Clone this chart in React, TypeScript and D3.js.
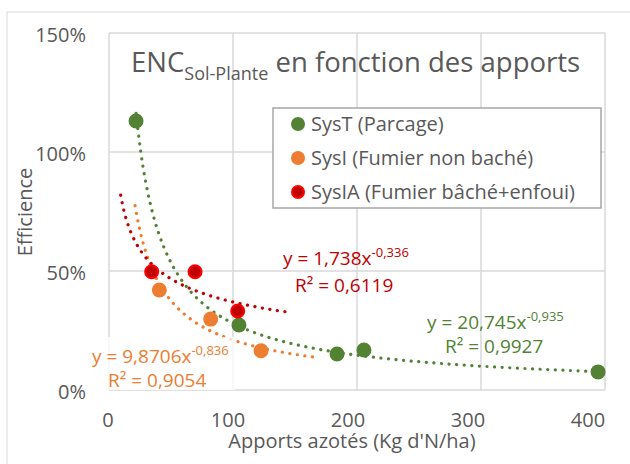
import * as d3 from "d3";

// ---- data ----
const sysT_x = [21.8, 104.8, 183.9, 205.6, 394.4];
const sysT_y = [113, 27.3, 15.1, 16.8, 7.6];
const sysI_x = [40.6, 82, 122.6];
const sysI_y = [42, 29.8, 16.5];
const sysIA_x = [34.4, 69.4, 103.8];
const sysIA_y = [49.7, 49.7, 33.2];

// power trendlines y = a * x^b (values as printed on the chart), drawn on [from, to]
const trendA = [20.745, 9.8706, 1.738];
const trendB = [-0.935, -0.836, -0.336];
const trendFrom = [21.8, 21, 9.4];
const trendTo = [394.4, 169, 144];

const seriesNames = ["SysT (Parcage)", "SysI (Fumier non baché)", "SysIA (Fumier bâché+enfoui)"];
const eqLabels = ["y = 20,745x", "y = 9,8706x", "y = 1,738x"];
const eqExps = ["-0,935", "-0,836", "-0,336"];
const r2Labels = ["R² = 0,9927", "R² = 0,9054", "R² = 0,6119"];
// label anchors in data units
const eqAt = [[256.5, 25.6], [-13.7, 11.3], [140.3, 52.5]];
const r2At = [[271, 15.5], [-0.8, 1.3], [150, 41.2]];

const xTicks = [0, 100, 200, 300, 400];
const yTicks = [0, 50, 100, 150];

const colors = ["#548235", "#ED7D31", "#C00000"];
const FONT = "'Open Sans', sans-serif";
const GREY = "#595959";

export default function App() {
  const x = d3.scaleLinear().domain([0, 400]).range([109, 605]);
  const y = d3.scaleLinear().domain([0, 150]).range([390, 33]);
  // Excel places the category numbers slightly off the grid
  const xLab = d3.scaleLinear().domain([0, 400]).range([108, 588]);

  const series = [
    { xs: sysT_x, ys: sysT_y },
    { xs: sysI_x, ys: sysI_y },
    { xs: sysIA_x, ys: sysIA_y },
  ];

  const line = d3.line<[number, number]>()
    .x(d => x(d[0]))
    .y(d => y(d[1]))
    .curve(d3.curveMonotoneX);

  const trendPath = (i: number) => {
    const pts: [number, number][] = d3.range(0, 101).map(k => {
      const xv = trendFrom[i] + (trendTo[i] - trendFrom[i]) * k / 100;
      return [xv, 100 * trendA[i] * Math.pow(xv, trendB[i])];
    });
    return line(pts) || "";
  };

  return (
    <svg width={630} height={464} style={{ position: "absolute", left: 0, top: 0, background: "#fff" }} fontFamily={FONT}>
      <rect x={7} y={12} width={640} height={470} fill="#fff" stroke="#d9d9d9" strokeWidth={1} />

      {/* grid */}
      {yTicks.map(t => (
        <line key={"gy" + t} x1={x(0)} x2={x(400)} y1={y(t)} y2={y(t)} stroke="#d9d9d9" strokeWidth={1.5} />
      ))}
      {xTicks.map(t => (
        <line key={"gx" + t} x1={x(t)} x2={x(t)} y1={y(0)} y2={y(150)} stroke="#d9d9d9" strokeWidth={1.5} />
      ))}

      {/* axis ticks */}
      {yTicks.map(t => (
        <text key={"ty" + t} x={86} y={y(t) + 2} dy="0.35em" textAnchor="end" fontSize={20} fill={GREY}>{t}%</text>
      ))}
      {xTicks.map(t => (
        <text key={"tx" + t} x={xLab(t)} y={427} textAnchor="middle" fontSize={20} fill={GREY}>{t}</text>
      ))}

      <text x={352} y={448} textAnchor="middle" fontSize={20} fill={GREY}>Apports azotés (Kg d'N/ha)</text>
      <text transform="translate(32,212) rotate(-90)" textAnchor="middle" fontSize={20} fill={GREY}>Efficience</text>

      {/* title */}
      <text x={131} y={72} fontSize={27.5} fill={GREY}>
        ENC<tspan fontSize={18} dy={8}>Sol-Plante</tspan><tspan dy={-8}> en fonction des apports</tspan>
      </text>

      {/* trendlines */}
      {series.map((s, i) => (
        <path key={"tr" + i} d={trendPath(i)} fill="none" stroke={colors[i]} strokeWidth={3.2}
          strokeDasharray="0.1 7.5" strokeLinecap="round" />
      ))}

      {/* points */}
      {series.map((s, i) => s.xs.map((xv, j) => (
        <circle key={"p" + i + "-" + j} cx={x(xv)} cy={y(s.ys[j])} r={i === 2 ? 6.5 : 7.5}
          fill={colors[i]} stroke={i === 2 ? "#FF0000" : "none"} strokeWidth={2} />
      )))}

      {/* legend */}
      <rect x={273} y={108} width={328} height={100} fill="#fff" stroke="#a6a6a6" strokeWidth={1.5} />
      {seriesNames.map((n, i) => (
        <g key={"lg" + i} transform={`translate(298,${124 + i * 34})`}>
          <circle r={i === 2 ? 6 : 7} fill={colors[i]} stroke={i === 2 ? "#FF0000" : "none"} strokeWidth={2} />
          <text x={13} dy="0.35em" fontSize={20} fill={GREY}>{n}</text>
        </g>
      ))}

      {/* orange label background */}
      <rect x={88} y={337} width={147} height={53} fill="#fff" fillOpacity={0.75} />

      {/* trendline equations */}
      {eqLabels.map((e, i) => (
        <g key={"eq" + i}>
          <text x={x(eqAt[i][0])} y={y(eqAt[i][1])} fontSize={19} fill={colors[i] === "#C00000" ? "#C00000" : colors[i]}>
            {e}<tspan fontSize={13} dy={-8}>{eqExps[i]}</tspan>
          </text>
          <text x={x(r2At[i][0])} y={y(r2At[i][1])} fontSize={19} fill={colors[i]}>{r2Labels[i]}</text>
        </g>
      ))}
    </svg>
  );
}
